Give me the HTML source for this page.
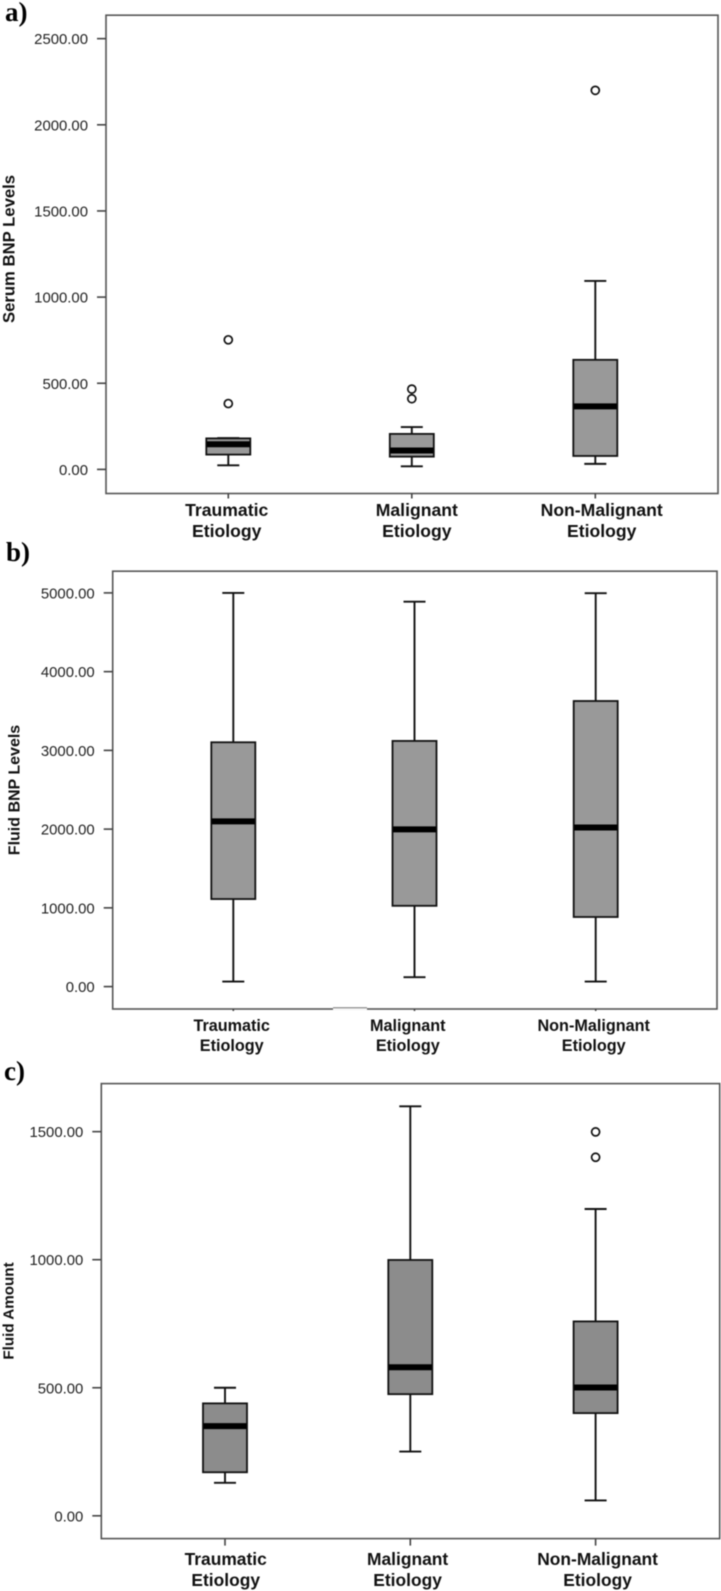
<!DOCTYPE html>
<html lang="en">
<head>
<meta charset="utf-8">
<title>BNP levels and fluid amount by etiology</title>
<style>
  html, body { margin: 0; padding: 0; background: #fff; }
  #figure { display: block; width: 721px; height: 1591px; filter: blur(0.45px); }
  text { font-family: "Liberation Sans", sans-serif; }
  .panel-letter { font-family: "Liberation Serif", serif; font-weight: bold; font-size: 27px; fill: #000; }
  .tick-label { font-size: 14.9px; fill: #222; text-anchor: end; }
  .cat-label { font-weight: bold; fill: #111; text-anchor: middle; }
  .y-title { font-weight: bold; fill: #111; text-anchor: middle; }
</style>
</head>
<body>
<svg id="figure" xmlns="http://www.w3.org/2000/svg" width="721" height="1591" viewBox="0 0 721 1591"></svg>
<script>
const categories = ['Traumatic', 'Malignant', 'Non-Malignant'];

const serumTicks = [0, 500, 1000, 1500, 2000, 2500];
const serumLow = [24, 18, 32];
const serumQ1 = [86, 74, 78];
const serumMedian = [146, 110, 366];
const serumQ3 = [180, 206, 636];
const serumHigh = [182, 246, 1094];
const serumOutliers = [[382, 752], [410, 466], [2200]];

const fluidBnpTicks = [0, 1000, 2000, 3000, 4000, 5000];
const fluidBnpLow = [64, 120, 64];
const fluidBnpQ1 = [1112, 1026, 884];
const fluidBnpMedian = [2099, 1996, 2021];
const fluidBnpQ3 = [3103, 3120, 3627];
const fluidBnpHigh = [5000, 4888, 4996];
const fluidBnpOutliers = [[], [], []];

const amountTicks = [0, 500, 1000, 1500];
const amountLow = [129, 251, 60];
const amountQ1 = [170, 475, 401];
const amountMedian = [350, 580, 501];
const amountQ3 = [439, 999, 759];
const amountHigh = [500, 1599, 1198];
const amountOutliers = [[], [], [1400, 1499]];

const NS = 'http://www.w3.org/2000/svg';
const root = document.getElementById('figure');

function make(tag, attrs, parent, text) {
  const el = document.createElementNS(NS, tag);
  for (const k in attrs) el.setAttribute(k, attrs[k]);
  if (text !== undefined) el.textContent = text;
  parent.appendChild(el);
  return el;
}

function drawPanel(p) {
  const g = make('g', {}, root);
  
  

  const yOf = v => p.y0 - v * p.yScale;
  const xOf = i => p.x0 + i * p.xStep;

  const letter = make('text', { x: p.letterX, y: p.letterY, class: 'panel-letter' }, g, p.letter);
  
  

  const frame = make('rect', {
    x: p.left, y: p.top, width: p.right - p.left, height: p.bottom - p.top,
    fill: '#fff', stroke: '#555', 'stroke-width': 1.6
  }, g);
  
  

  const title = make('text', {
    class: 'y-title', 'font-size': p.titleSize,
    transform: 'translate(' + p.titleX + ',' + p.titleY + ') rotate(-90)'
  }, g, p.title);
  
  

  p.ticks.forEach(v => {
    const tick = make('line', {
      x1: p.left - 9, x2: p.left, y1: yOf(v), y2: yOf(v), stroke: '#444', 'stroke-width': 1.6
    }, g);
    
    
    const label = make('text', { x: p.left - 18, y: yOf(v) + 5.5, class: 'tick-label' }, g, v.toFixed(2));
    
    
  });

  categories.forEach((cat, i) => {
    const cx = xOf(i);
    const box = make('g', {}, g);
    
    

    const stem = make('line', {
      x1: cx, x2: cx, y1: yOf(p.low[i]), y2: yOf(p.high[i]), stroke: '#111', 'stroke-width': 1.9
    }, box);
    
    

    [p.low[i], p.high[i]].forEach(v => {
      const cap = make('line', {
        x1: cx - 11, x2: cx + 11, y1: yOf(v), y2: yOf(v), stroke: '#111', 'stroke-width': 1.9
      }, box);
      
      
    });

    const iqr = make('rect', {
      x: cx - 22, y: yOf(p.q3[i]), width: 44, height: yOf(p.q1[i]) - yOf(p.q3[i]),
      fill: p.fill, stroke: '#111', 'stroke-width': 1.8
    }, box);
    
    

    const med = make('line', {
      x1: cx - 21.5, x2: cx + 21.5, y1: yOf(p.median[i]), y2: yOf(p.median[i]), stroke: '#000', 'stroke-width': 6
    }, box);
    
    

    p.outliers[i].forEach(v => {
      const pt = make('circle', {
        cx: cx, cy: yOf(v), r: 4, fill: '#fff', stroke: '#111', 'stroke-width': 1.7
      }, box);
      
      
    });

    const xTick = make('line', {
      x1: cx, x2: cx, y1: p.bottom, y2: p.bottom + p.xTickLen, stroke: '#444', 'stroke-width': 1.6
    }, g);
    
    

    const lx = cx + p.labelNudge[i];
    const l1 = make('text', { x: lx, y: p.labelY1, class: 'cat-label', style: 'font-size:' + p.labelSize + 'px' }, g, cat);
    
    
    const l2 = make('text', { x: lx, y: p.labelY2, class: 'cat-label', style: 'font-size:' + p.labelSize + 'px' }, g, 'Etiology');
    
    
  });

  if (p.notch) {
    const gap = make('line', { x1: 333, x2: 367, y1: p.bottom, y2: p.bottom, stroke: '#fff', 'stroke-width': 1.8 }, g);
    
    
    const shifted = make('line', { x1: 333, x2: 367, y1: p.bottom - 1.2, y2: p.bottom - 1.2, stroke: '#777', 'stroke-width': 1 }, g);
    
    
  }
}

drawPanel({
  key: 'serum-bnp', letter: 'a)', letterX: 5, letterY: 21,
  title: 'Serum BNP Levels', titleX: 14.5, titleY: 249, titleSize: 16.7,
  left: 106, right: 718, top: 15.2, bottom: 493.5,
  y0: 469.4, yScale: 0.1723, x0: 228.3, xStep: 183.5,
  ticks: serumTicks, low: serumLow, q1: serumQ1, median: serumMedian, q3: serumQ3, high: serumHigh, outliers: serumOutliers,
  fill: '#999', labelNudge: [-1.6, 5, 6.4], labelY1: 516, labelY2: 537, labelSize: 17.6, xTickLen: 5
});

drawPanel({
  key: 'fluid-bnp', letter: 'b)', letterX: 6, letterY: 561,
  title: 'Fluid BNP Levels', titleX: 19.5, titleY: 790, titleSize: 16,
  left: 112.7, right: 717, top: 571.2, bottom: 1009,
  y0: 986.6, yScale: 0.07874, x0: 233.3, xStep: 181.2,
  ticks: fluidBnpTicks, low: fluidBnpLow, q1: fluidBnpQ1, median: fluidBnpMedian, q3: fluidBnpQ3, high: fluidBnpHigh, outliers: fluidBnpOutliers,
  fill: '#999', labelNudge: [-1.6, -6.7, -2], labelY1: 1031, labelY2: 1051, labelSize: 16.2, xTickLen: 2, notch: true
});

drawPanel({
  key: 'fluid-amount', letter: 'c)', letterX: 4, letterY: 1080,
  title: 'Fluid Amount', titleX: 13.5, titleY: 1311, titleSize: 15.2,
  left: 101.3, right: 719.7, top: 1083.6, bottom: 1538.6,
  y0: 1515.8, yScale: 0.2561, x0: 225, xStep: 185.3,
  ticks: amountTicks, low: amountLow, q1: amountQ1, median: amountMedian, q3: amountQ3, high: amountHigh, outliers: amountOutliers,
  fill: '#8c8c8c', labelNudge: [0.7, -2.7, 2], labelY1: 1565, labelY2: 1586, labelSize: 17.4, xTickLen: 7
});
</script>
</body>
</html>
